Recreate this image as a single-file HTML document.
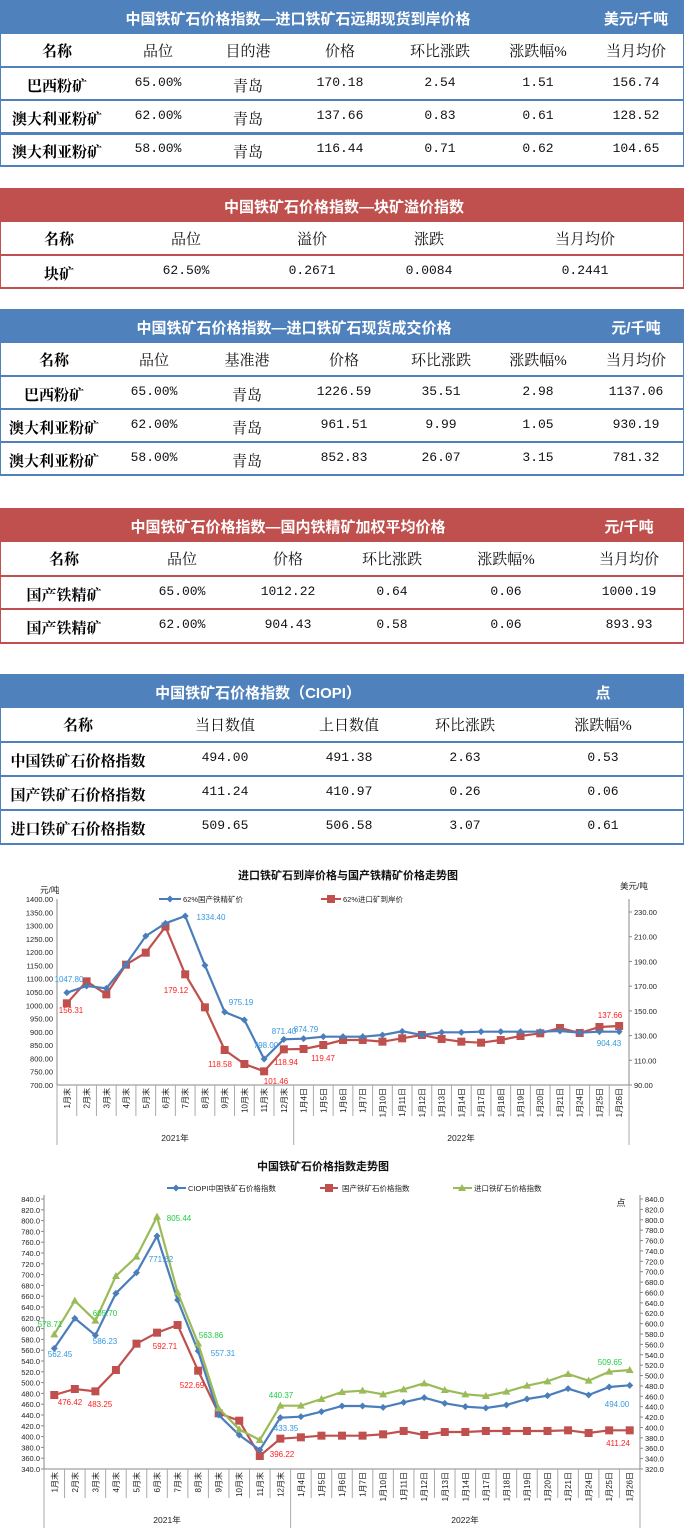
<!DOCTYPE html>
<html><head><meta charset="utf-8">
<style>
body{margin:0;width:684px;height:1540px;background:#fff;position:relative;overflow:hidden;font-family:"Liberation Serif","Noto Serif CJK SC",serif;}
.t{position:absolute;left:0;width:684px;}
.hd{position:absolute;left:0;width:684px;height:34px;color:#fff;font-family:"Liberation Sans","Noto Sans CJK SC",sans-serif;font-weight:bold;font-size:15px;}
.c{position:absolute;transform:translateX(-50%);white-space:nowrap;}
.bx{position:absolute;box-sizing:border-box;}
.num{font-family:"Liberation Mono","Noto Serif CJK SC",monospace;font-size:13px;color:#111;}
.ch{font-size:15px;color:#111;font-family:"Liberation Serif","Noto Serif CJK SC",serif;}
.nm{font-size:15px;font-weight:bold;color:#000;font-family:"Noto Serif CJK SC",serif;}
svg text{font-family:"Liberation Sans","Noto Sans CJK SC",sans-serif;}
</style></head><body>
<div id="tables"></div>
<svg id="ch1" style="position:absolute;left:0;top:0" width="684" height="1540"></svg>
<script>
var root=document.getElementById('tables');
function el(html){root.insertAdjacentHTML('beforeend',html);}
function table(o){
 var col=o.color;
 el('<div class="bx" style="left:0;top:'+o.top+'px;width:684px;height:34px;background:'+col+'"></div>');
 el('<div class="hd" style="top:'+(o.top+8)+'px"><span class="c" style="left:'+o.tx+'px">'+o.title+'</span><span class="c" style="left:'+o.ux+'px">'+o.unit+'</span></div>');
 var y=o.top+34;
 var bottom=y+o.rh*(o.rows.length+1);
 el('<div class="bx" style="left:0;top:'+y+'px;width:684px;height:'+(bottom-y+1)+'px;border-left:1px solid '+col+';border-right:1px solid '+col+'"></div>');
 var all=[o.head].concat(o.rows);
 for(var r=0;r<all.length;r++){
  var ry=y+r*o.rh;
  for(var i=0;i<all[r].length;i++){
   var cls=r==0?(i==0?'nm':'ch'):(i==0?'nm':(o.txt&&o.txt.indexOf(i)>=0?'ch':'num'));
   el('<span class="c '+cls+'" style="left:'+o.xs[i]+'px;top:'+(ry+(r==0?6:8))+'px">'+all[r][i]+'</span>');
  }
  var lw=(o.thick&&o.thick==r+1)?3:2;
  el('<div class="bx" style="left:0;top:'+(ry+o.rh-1)+'px;width:684px;height:'+lw+'px;background:'+col+'"></div>');
 }
}
var B='#4F81BD',R='#C0504D';
table({top:0,color:B,title:'中国铁矿石价格指数—进口铁矿石远期现货到岸价格',tx:298,unit:'美元/千吨',ux:636,rh:33,thick:3,
 xs:[57,158,248,340,440,538,636],txt:[2],
 head:['名称','品位','目的港','价格','环比涨跌','涨跌幅%','当月均价'],
 rows:[['巴西粉矿','65.00%','青岛','170.18','2.54','1.51','156.74'],['澳大利亚粉矿','62.00%','青岛','137.66','0.83','0.61','128.52'],['澳大利亚粉矿','58.00%','青岛','116.44','0.71','0.62','104.65']]});
table({top:188,color:R,title:'中国铁矿石价格指数—块矿溢价指数',tx:344,unit:'',ux:636,rh:33,
 xs:[59,186,312,429,585],
 head:['名称','品位','溢价','涨跌','当月均价'],
 rows:[['块矿','62.50%','0.2671','0.0084','0.2441']]});
table({top:309,color:B,title:'中国铁矿石价格指数—进口铁矿石现货成交价格',tx:294,unit:'元/千吨',ux:636,rh:33,
 xs:[54,154,247,344,441,538,636],txt:[2],
 head:['名称','品位','基准港','价格','环比涨跌','涨跌幅%','当月均价'],
 rows:[['巴西粉矿','65.00%','青岛','1226.59','35.51','2.98','1137.06'],['澳大利亚粉矿','62.00%','青岛','961.51','9.99','1.05','930.19'],['澳大利亚粉矿','58.00%','青岛','852.83','26.07','3.15','781.32']]});
table({top:508,color:R,title:'中国铁矿石价格指数—国内铁精矿加权平均价格',tx:288,unit:'元/千吨',ux:629,rh:33.5,
 xs:[64,182,288,392,506,629],
 head:['名称','品位','价格','环比涨跌','涨跌幅%','当月均价'],
 rows:[['国产铁精矿','65.00%','1012.22','0.64','0.06','1000.19'],['国产铁精矿','62.00%','904.43','0.58','0.06','893.93']]});
table({top:674,color:B,title:'中国铁矿石价格指数（CIOPI）',tx:258,unit:'点',ux:603,rh:34,
 xs:[78,225,349,465,603],
 head:['名称','当日数值','上日数值','环比涨跌','涨跌幅%'],
 rows:[['中国铁矿石价格指数','494.00','491.38','2.63','0.53'],['国产铁矿石价格指数','411.24','410.97','0.26','0.06'],['进口铁矿石价格指数','509.65','506.58','3.07','0.61']]});

var S='';
function T(x,y,s,opt){opt=opt||{};S+='<text x="'+x+'" y="'+y+'" font-size="'+(opt.fs||8)+'" fill="'+(opt.c||'#222')+'" text-anchor="'+(opt.a||'start')+'"'+(opt.w?' font-weight="bold"':'')+(opt.tr?' transform="'+opt.tr+'"':'')+'>'+s+'</text>';}
function L(x1,y1,x2,y2,c,w){S+='<line x1="'+x1+'" y1="'+y1+'" x2="'+x2+'" y2="'+y2+'" stroke="'+(c||'#999')+'" stroke-width="'+(w||1)+'"/>';}
var cats=['1月末','2月末','3月末','4月末','5月末','6月末','7月末','8月末','9月末','10月末','11月末','12月末','1月4日','1月5日','1月6日','1月7日','1月10日','1月11日','1月12日','1月13日','1月14日','1月17日','1月18日','1月19日','1月20日','1月21日','1月24日','1月25日','1月26日'];
function mark(type,x,y,c){
 if(type=='d')S+='<polygon points="'+x+','+(y-3.5)+' '+(x+3.5)+','+y+' '+x+','+(y+3.5)+' '+(x-3.5)+','+y+'" fill="'+c+'"/>';
 else if(type=='s')S+='<rect x="'+(x-4)+'" y="'+(y-4)+'" width="8" height="8" fill="'+c+'"/>';
 else S+='<polygon points="'+x+','+(y-4)+' '+(x+4)+','+(y+3)+' '+(x-4)+','+(y+3)+'" fill="'+c+'"/>';
}
function series(xs,ys,c,type){
 var p=xs.map(function(x,i){return x.toFixed(1)+','+ys[i].toFixed(1)}).join(' ');
 S+='<polyline points="'+p+'" fill="none" stroke="'+c+'" stroke-width="2.2"/>';
 for(var i=0;i<xs.length;i++)mark(type,xs[i],ys[i],c);
}
function catAxis(x0,x1,yA,yTop,yTick,yGrp,yEnd,g1,g2){
 var w=(x1-x0)/29;
 L(x0,yA,x1,yA,'#888');
 for(var i=0;i<=29;i++){var x=x0+i*w;L(x,yA,x,(i==0||i==12||i==29)?yEnd:yTick,'#aaa');}
 for(var i=0;i<29;i++){var cx=x0+(i+0.5)*w+3;T(cx,yTop,cats[i],{fs:8,a:'end',tr:'rotate(-90 '+cx+' '+yTop+')'});}
 T(g1,yGrp,'2021年',{fs:8.5,a:'middle'});T(g2,yGrp,'2022年',{fs:8.5,a:'middle'});
}
// Chart 1
T(348,879,'进口铁矿石到岸价格与国产铁精矿价格走势图',{fs:11,w:1,a:'middle',c:'#111'});
T(40,893,'元/吨',{fs:8.5});T(620,889,'美元/吨',{fs:8.5});
L(57,899,57,1145,'#888');L(629,899,629,1145,'#888');
for(var v=700;v<=1400;v+=50){var y=1085-(v-700)*186/700;T(53,y+3,v.toFixed(2),{fs:7.5,a:'end'});}
for(var v=90;v<=230;v+=20){var y=1085-(v-90)*173/140;L(629,y,632,y,'#888');T(634,y+3,v.toFixed(2),{fs:7.5});}
catAxis(57,629,1085,1088,1116,1141,1145,175,461);
var c1x=[];for(var i=0;i<29;i++)c1x.push(57+(i+0.5)*572/29);
var bz=[398,378,385,313,228,190,168,316,456,480,597,538,536,530,530,530,525,514,525,517,517,515,515,515,515,513,518,515,515];
var rz=[430,364,403,314,278,200,343,442,570,612,634,568,567,555,540,540,545,535,525,537,545,548,540,528,520,504,519,501,498];
series(c1x,rz.map(function(z){return 860+z/3}),'#C0504D','s');
series(c1x,bz.map(function(z){return 860+z/3}),'#4A7EBB','d');
L(159,899,181,899,'#4A7EBB',2);mark('d',170,899,'#4A7EBB');T(183,902,'62%国产铁精矿价',{fs:7.5});
L(321,899,341,899,'#C0504D',2);mark('s',331,899,'#C0504D');T(343,902,'62%进口矿到岸价',{fs:7.5});
var BL='#3399e0',RD='#ff2020';
[[69,979,'1047.80'],[211,917,'1334.40'],[241,1002,'975.19'],[266,1045,'798.00'],[284,1031,'871.40'],[306,1029,'874.79'],[609,1043,'904.43']].forEach(function(a){T(a[0],a[1]+3,a[2],{fs:8,c:BL,a:'middle'})});
[[71,1010,'156.31'],[176,990,'179.12'],[220,1064,'118.58'],[276,1081,'101.46'],[286,1062,'118.94'],[323,1058,'119.47'],[610,1015,'137.66']].forEach(function(a){T(a[0],a[1]+3,a[2],{fs:8,c:RD,a:'middle'})});
// Chart 2
T(323,1170,'中国铁矿石价格指数走势图',{fs:11,w:1,a:'middle',c:'#111'});
L(44,1195,44,1528,'#888');L(640,1195,640,1528,'#888');
for(var v=340;v<=840;v+=20){var y=1469-(v-340)*270/500;L(41,y,44,y,'#888');T(40,y+3,v.toFixed(1),{fs:7.5,a:'end'});}
for(var v=320;v<=840;v+=20){var y=1469-(v-320)*270/520;L(640,y,643,y,'#888');T(645,y+3,v.toFixed(1),{fs:7.5});}
catAxis(44,640,1469,1472,1498,1523,1528,167,465);
var c2x=[];for(var i=0;i<29;i++)c2x.push(44+(i+0.5)*596/29);
var b2=[595,505,556,430,368,258,450,603,795,855,900,803,800,785,768,768,772,757,743,760,770,774,765,747,737,716,735,711,706];
var r2=[735,717,724,660,581,548,525,662,790,812,918,866,862,857,857,857,853,843,855,846,846,843,843,843,843,841,849,841,841];
var g2=[553,452,512,378,320,200,427,580,775,838,870,767,767,747,726,722,733,718,700,720,733,738,725,707,694,672,692,665,660];
series(c2x,r2.map(function(z){return 1150+z/3}),'#C0504D','s');
series(c2x,b2.map(function(z){return 1150+z/3}),'#4A7EBB','d');
series(c2x,g2.map(function(z){return 1150+z/3}),'#9BBB59','t');
L(167,1188,186,1188,'#4A7EBB',2);mark('d',176,1188,'#4A7EBB');T(188,1191,'CIOPI中国铁矿石价格指数',{fs:7.5});
L(320,1188,338,1188,'#C0504D',2);mark('s',329,1188,'#C0504D');T(342,1191,'国产铁矿石价格指数',{fs:7.5});
L(453,1188,472,1188,'#9BBB59',2);mark('t',462,1188,'#9BBB59');T(474,1191,'进口铁矿石价格指数',{fs:7.5});
T(621,1206,'点',{fs:9,a:'middle'});
var GN='#22cc44';
[[50,1324,'578.71'],[105,1313,'605.70'],[179,1218,'805.44'],[211,1335,'563.86'],[281,1395,'440.37'],[610,1362,'509.65']].forEach(function(a){T(a[0],a[1]+3,a[2],{fs:8,c:GN,a:'middle'})});
[[60,1354,'562.45'],[105,1341,'586.23'],[161,1259,'771.62'],[223,1353,'557.31'],[286,1428,'433.35'],[617,1404,'494.00']].forEach(function(a){T(a[0],a[1]+3,a[2],{fs:8,c:BL,a:'middle'})});
[[70,1402,'476.42'],[100,1404,'483.25'],[165,1346,'592.71'],[192,1385,'522.69'],[282,1454,'396.22'],[618,1443,'411.24']].forEach(function(a){T(a[0],a[1]+3,a[2],{fs:8,c:RD,a:'middle'})});
document.getElementById('ch1').innerHTML=S;
</script>
</body></html>
